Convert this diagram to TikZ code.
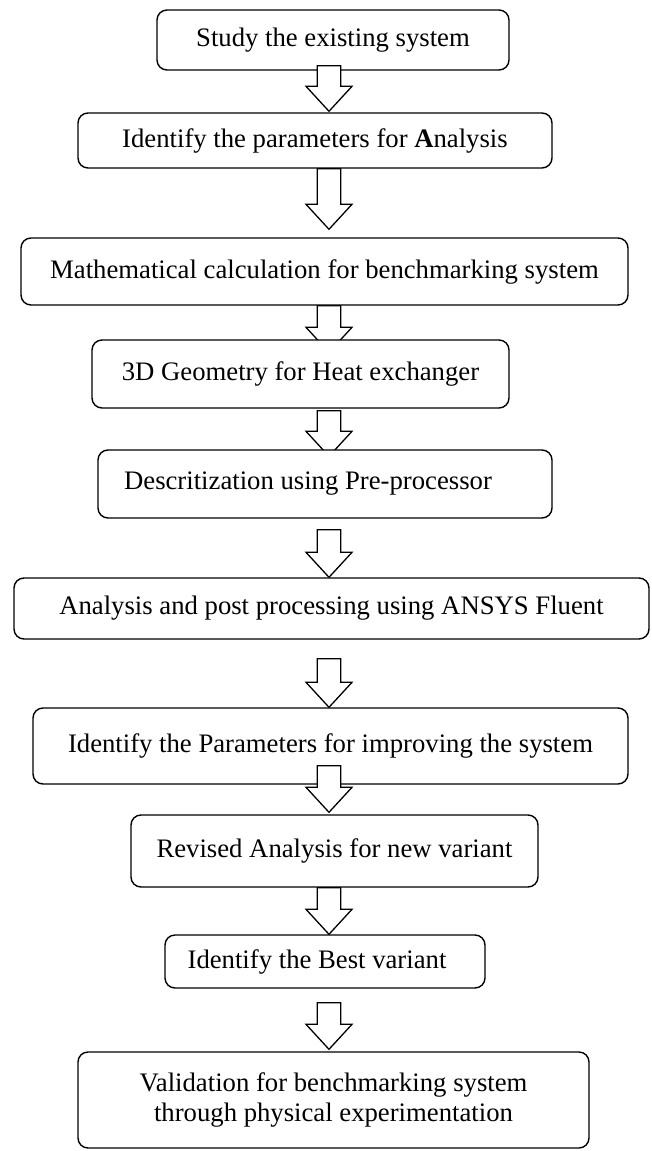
\documentclass[tikz,border=0pt]{standalone}
\usepackage{fontspec}
\setmainfont{Liberation Serif}
\usetikzlibrary{calc}
\pgfdeclarelayer{back}
\pgfsetlayers{back,main}

\newcommand{\hollowarrow}[2]{%
  \path #1 coordinate (hs) #2 coordinate (he);
  \draw[blockarrow] ($(hs)+(-11.75,0)$) -- ($(hs)+(11.75,0)$)
    -- ($(he)+(11.75,-25)$) -- ($(he)+(23,-25)$) -- (he)
    -- ($(he)+(-23,-25)$) -- ($(he)+(-11.75,-25)$) -- cycle;}

\begin{document}
\begin{tikzpicture}[x=1pt,y=-1pt]
	\tikzstyle{stepbox}=[draw,fill=white,rounded corners=10pt,line width=1.4pt,align=center,inner sep=0pt,font=\fontsize{26.7}{30}\selectfont]
	\tikzstyle{blockarrow}=[draw,fill=white,line width=1.3pt,line join=miter]
	\useasboundingbox (0,0) rectangle (652,1151);

	\coordinate (X) at (329,0);

	\node[stepbox,minimum width=352,minimum height=60] (A) at (333,40) {Study the existing system};
	\node[stepbox,minimum width=474,minimum height=55] (B) at (315,140.5) {Identify the parameters for \textbf{A}nalysis};
	\node[stepbox,minimum width=607,minimum height=67] (C) at (324.5,271.5) {Mathematical calculation for benchmarking system};
	\node[stepbox,minimum width=417,minimum height=68] (D) at (300.5,374) {3D Geometry for Heat exchanger};
	\node[stepbox,minimum width=454,minimum height=68] (E) at (325,484) {Descritization using Pre-processor\hspace{34pt}};
	\node[stepbox,minimum width=635,minimum height=61] (F) at (331.5,608.5) {Analysis and post processing using ANSYS Fluent};
	\node[stepbox,minimum width=595,minimum height=76] (G) at (330.5,746) {Identify the Parameters for improving the system};
	\node[stepbox,minimum width=407,minimum height=72] (H) at (334.5,851) {Revised Analysis for new variant};
	\node[stepbox,minimum width=320,minimum height=53] (I) at (325,961.5) {Identify the Best variant\hspace{16pt}};
	\node[stepbox,minimum width=511,minimum height=96] (J) at (333.5,1100) {Validation for benchmarking system\\through physical experimentation};

	\hollowarrow{($(A.south -| X)+(0,-5)$)}{($(B.north -| X)+(0,-1)$)}
	\hollowarrow{(B.south -| X)}{($(C.north -| X)+(0,-8)$)}
	\begin{pgfonlayer}{back}
	\hollowarrow{(C.south -| X)}{($(D.north -| X)+(0,13)$)}
	\hollowarrow{($(D.south -| X)+(0,2)$)}{($(E.north -| X)+(0,7)$)}
	\end{pgfonlayer}
	\hollowarrow{($(E.south -| X)+(0,11)$)}{(F.north -| X)}
	\hollowarrow{($(F.south -| X)+(0,19)$)}{(G.north -| X)}
	\hollowarrow{($(G.south -| X)+(0,-19)$)}{($(H.north -| X)+(0,-2)$)}
	\hollowarrow{(H.south -| X)}{(I.north -| X)}
	\hollowarrow{($(I.south -| X)+(0,14)$)}{($(J.north -| X)+(0,-2)$)}
\end{tikzpicture}
\end{document}
